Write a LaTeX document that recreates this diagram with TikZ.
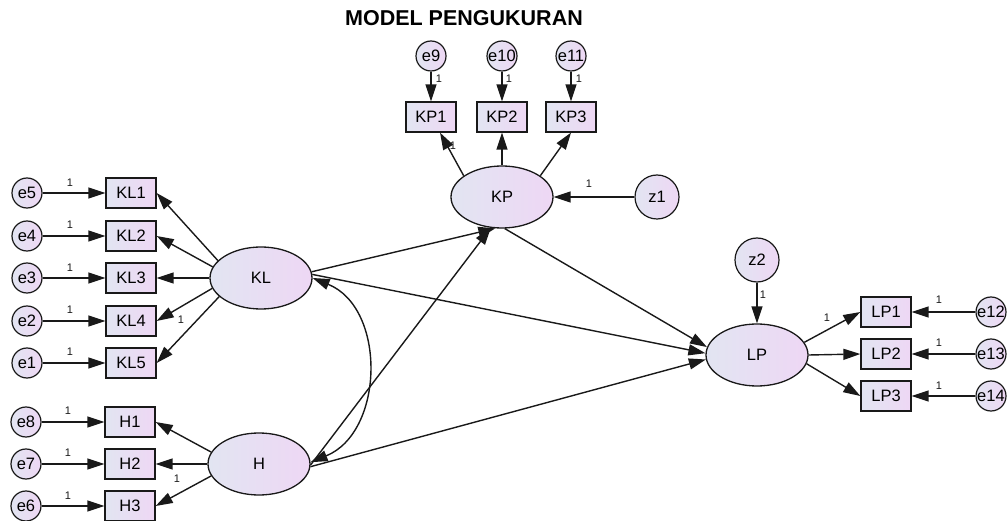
\documentclass[tikz,border=0pt]{standalone}
\usepackage{fontspec}
\setmainfont{Liberation Sans}
\usetikzlibrary{arrows.meta,shapes.geometric}
\definecolor{fondA}{RGB}{226,229,242}
\definecolor{fondB}{RGB}{238,215,244}
\definecolor{trait}{RGB}{25,25,25}
\tikzset{
  latente/.style={ellipse,draw=trait,line width=1.3pt,left color=fondA,right color=fondB,
    minimum width=102pt,minimum height=62pt,inner sep=0pt,font=\fontsize{16.5}{16.5}\selectfont},
  mesure/.style={rectangle,draw=trait,line width=1.3pt,left color=fondA,right color=fondB,
    minimum width=50pt,minimum height=30pt,inner sep=0pt,font=\fontsize{16.5}{16.5}\selectfont},
  erreur/.style={circle,draw=trait,line width=1.2pt,left color=fondA,right color=fondB,
    minimum size=30pt,inner sep=0pt,font=\fontsize{16.5}{16.5}\selectfont},
  perturb/.style={erreur,minimum size=44pt},
  fleche/.style={-{Triangle[length=17pt,width=11pt]},line width=1.4pt,draw=trait},
  double/.style={{Triangle[length=17pt,width=11pt]}-{Triangle[length=17pt,width=11pt]},line width=1.4pt,draw=trait},
  poids/.style={font=\fontsize{11}{11}\selectfont,inner sep=0pt,text=trait}
}
\begin{document}
\begin{tikzpicture}[x=1pt,y=-1pt]
    \useasboundingbox (0,0) rectangle (1007,521);
    % Titre
    \node[font=\bfseries\fontsize{21.5}{21.5}\selectfont] (titre) at (464,18) {MODEL PENGUKURAN};

    % Variables latentes
    \node[latente] (KL) at (261,278) {KL};
    \node[latente] (H) at (259,464) {H};
    \node[latente] (KP) at (502,197) {KP};
    \node[latente] (LP) at (757,355) {LP};

    % Indicateurs de KL et leurs erreurs
    \node[mesure] (KL1) at (131,193) {KL1};
    \node[mesure] (KL2) at (131,236) {KL2};
    \node[mesure] (KL3) at (131,278) {KL3};
    \node[mesure] (KL4) at (131,321) {KL4};
    \node[mesure] (KL5) at (131,363) {KL5};
    \node[erreur] (e5) at (27,193) {e5};
    \node[erreur] (e4) at (27,236) {e4};
    \node[erreur] (e3) at (27,278) {e3};
    \node[erreur] (e2) at (27,321) {e2};
    \node[erreur] (e1) at (27,363) {e1};

    % Indicateurs de H et leurs erreurs
    \node[mesure] (H1) at (130,422) {H1};
    \node[mesure] (H2) at (130,464) {H2};
    \node[mesure] (H3) at (130,506) {H3};
    \node[erreur] (e8) at (26,422) {e8};
    \node[erreur] (e7) at (26,464) {e7};
    \node[erreur] (e6) at (26,506) {e6};

    % Indicateurs de KP, erreurs et perturbation
    \node[mesure] (KP1) at (431,117) {KP1};
    \node[mesure] (KP2) at (502,117) {KP2};
    \node[mesure] (KP3) at (571,117) {KP3};
    \node[erreur] (e9) at (431,56) {e9};
    \node[erreur] (e10) at (502,56) {e10};
    \node[erreur] (e11) at (571,56) {e11};
    \node[perturb] (z1) at (657,197) {z1};

    % Indicateurs de LP, erreurs et perturbation
    \node[mesure] (LP1) at (886,312) {LP1};
    \node[mesure] (LP2) at (886,354) {LP2};
    \node[mesure] (LP3) at (886,396) {LP3};
    \node[erreur] (e12) at (991,312) {e12};
    \node[erreur] (e13) at (991,354) {e13};
    \node[erreur] (e14) at (991,396) {e14};
    \node[perturb] (z2) at (757,260) {z2};

    % Fleches des erreurs
    \draw[fleche] (e5) -- (KL1);
    \draw[fleche] (e4) -- (KL2);
    \draw[fleche] (e3) -- (KL3);
    \draw[fleche] (e2) -- (KL4);
    \draw[fleche] (e1) -- (KL5);
    \draw[fleche] (e8) -- (H1);
    \draw[fleche] (e7) -- (H2);
    \draw[fleche] (e6) -- (H3);
    \draw[fleche] (e9) -- (KP1);
    \draw[fleche] (e10) -- (KP2);
    \draw[fleche] (e11) -- (KP3);
    \draw[fleche] (e12) -- (LP1);
    \draw[fleche] (e13) -- (LP2);
    \draw[fleche] (e14) -- (LP3);
    \draw[fleche] (z1) -- (KP);
    \draw[fleche] (z2) -- (LP);

    % Saturations
    \draw[fleche] (KL.158) -- (KL1.east);
    \draw[fleche] (KL.167) -- (KL2.east);
    \draw[fleche] (KL.180) -- (KL3.east);
    \draw[fleche] (KL.192) -- (KL4.east);
    \draw[fleche] (KL.204) -- (KL5.east);
    \draw[fleche] (H.166) -- (H1.east);
    \draw[fleche] (H.180) -- (H2.east);
    \draw[fleche] (H.194) -- (H3.east);
    \draw[fleche] (KP.151) -- (KP1.-60);
    \draw[fleche] (KP.north) -- (KP2.south);
    \draw[fleche] (KP.29) -- (KP3.south);
    \draw[fleche] (LP.15) -- (LP1.west);
    \draw[fleche] (LP.east) -- (LP2.west);
    \draw[fleche] (LP.-10) -- (LP3.west);

    % Relations structurelles
    \draw[fleche] (KL.7) -- (KP.258);
    \draw[fleche] (KL.4) -- (LP.178);
    \draw[fleche] (KP.275) -- (LP.171);
    \draw[fleche] (H.-1) -- (KP.250);
    \draw[fleche] (H.-3) -- (LP.185);
    \draw[double] (KL.0) .. controls +(74,30) and +(74,-30) .. (H.2);

    % Poids fixes
    \node[poids] (pe5) at (70,183) {1};
    \node[poids] (pe4) at (70,225) {1};
    \node[poids] (pe3) at (70,268) {1};
    \node[poids] (pe2) at (70,310) {1};
    \node[poids] (pe1) at (70,352) {1};
    \node[poids] (pKL4) at (181,320) {1};
    \node[poids] (pe8) at (68,411) {1};
    \node[poids] (pe7) at (68,453) {1};
    \node[poids] (pe6) at (68,496) {1};
    \node[poids] (pH3) at (177,479) {1};
    \node[poids] (pe9) at (439,79) {1};
    \node[poids] (pe10) at (509,79) {1};
    \node[poids] (pe11) at (579,79) {1};
    \node[poids] (pKP1) at (453,146) {1};
    \node[poids] (pz1) at (589,184) {1};
    \node[poids] (pz2) at (763,295) {1};
    \node[poids] (pLP1) at (827,318) {1};
    \node[poids] (pe12) at (939,300) {1};
    \node[poids] (pe13) at (939,343) {1};
    \node[poids] (pe14) at (939,386) {1};
\end{tikzpicture}
\end{document}
